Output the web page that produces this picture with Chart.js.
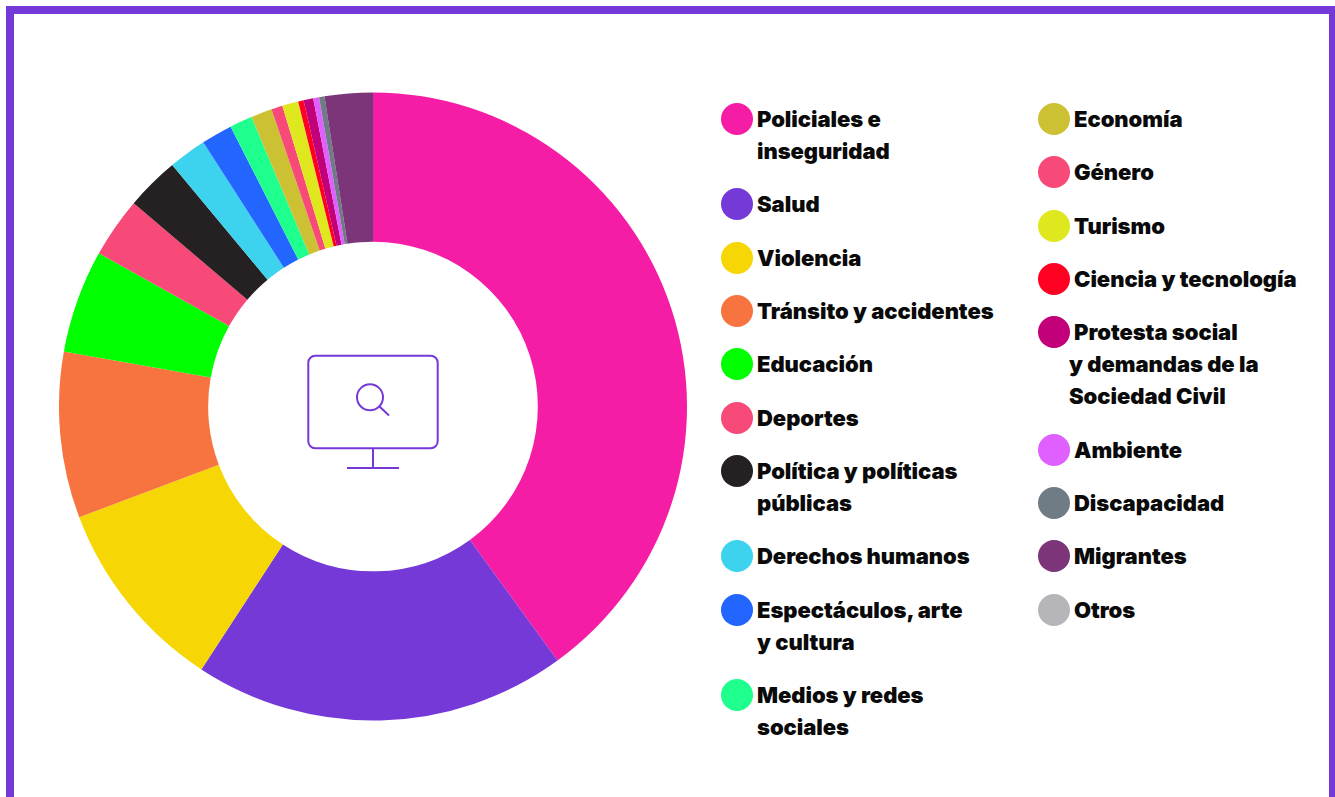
<!DOCTYPE html>
<html lang="es"><head><meta charset="utf-8">
<style>
html,body{margin:0;padding:0;background:#fff;width:1335px;height:797px;overflow:hidden}
#frame{position:absolute;left:5.5px;top:6px;width:1331px;height:820px;box-sizing:border-box;border:8px solid #7539D8}
#chart{position:absolute;left:59px;top:92px}
.col{position:absolute;top:103px;font:900 22px/32px Inter,sans-serif;letter-spacing:-.05px;color:#0a0a0a}
.item{position:relative;padding-left:36px;margin-bottom:21.33px;white-space:pre}
.dot{position:absolute;left:0;top:0;width:32px;height:32px;border-radius:50%}
.item span.t{display:block}
.hang{display:block;margin-left:-5px}
</style></head><body>
<div id="frame"></div>
<canvas id="chart" width="628" height="629"></canvas>
<div class="col" id="c1" style="left:721px"></div>
<div class="col" id="c2" style="left:1038px"></div>
<script src="https://cdn.jsdelivr.net/npm/chart.js@4/dist/chart.umd.min.js"></script>
<script>
const categories=["Policiales e\ninseguridad","Salud","Violencia","Tránsito y accidentes","Educación","Deportes","Política y políticas\npúblicas","Derechos humanos","Espectáculos, arte\ny cultura","Medios y redes\nsociales","Economía","Género","Turismo","Ciencia y tecnología","Protesta social\ny demandas de la\nSociedad Civil","Ambiente","Discapacidad","Migrantes","Otros"];
const values=[40,19.2,10.05,8.55,5.3,3.1,2.75,1.95,1.6,1.17,1.08,0.58,0.83,0.28,0.5,0.3,0.28,2.47,0];
const colors=["#F51DA5","#7539D8","#F6D705","#F7733F","#00FF00","#F84A78","#252122","#3DD3EE","#2365FF","#1EFF8E","#CCC033","#F84A78","#DFE81E","#FF0022","#C2007A","#DF5FFF","#6F7B85","#7B3578","#B5B5BA"];
const firstColumnCount=10;
const iconColor="#7539D8";

const iconPlugin={id:"icon",afterDraw(c){
  const g=c.ctx,a=c.chartArea,x=(a.left+a.right)/2,y=(a.top+a.bottom)/2;
  g.save();g.translate(x,y);g.strokeStyle=iconColor;g.lineWidth=2;g.lineCap="butt";
  g.beginPath();g.roundRect(-64.7,-50.8,129.4,92.6,7);g.stroke();
  g.beginPath();g.moveTo(0,41.8);g.lineTo(0,61.5);g.moveTo(-26,61.5);g.lineTo(26,61.5);g.stroke();
  g.beginPath();g.arc(-3,-9.2,13,0,Math.PI*2);g.stroke();
  g.beginPath();g.moveTo(6.5,0);g.lineTo(16,9);g.stroke();
  g.restore();
}};
new Chart(document.getElementById("chart"),{type:"doughnut",
  data:{labels:categories,datasets:[{data:values,backgroundColor:colors,borderWidth:0}]},
  options:{responsive:false,animation:false,cutout:"52.5%",layout:{padding:0},plugins:{legend:{display:false},tooltip:{enabled:false}}},
  plugins:[iconPlugin]});

categories.forEach((name,i)=>{
  const el=document.createElement("div");el.className="item";
  const dot=document.createElement("i");dot.className="dot";dot.style.background=colors[i];el.appendChild(dot);
  name.split("\n").forEach((line,j)=>{
    const s=document.createElement("span");s.textContent=line;s.className=(j>0&&i===14)?"hang":"t";el.appendChild(s);
  });
  document.getElementById(i<firstColumnCount?"c1":"c2").appendChild(el);
});
</script></body></html>
